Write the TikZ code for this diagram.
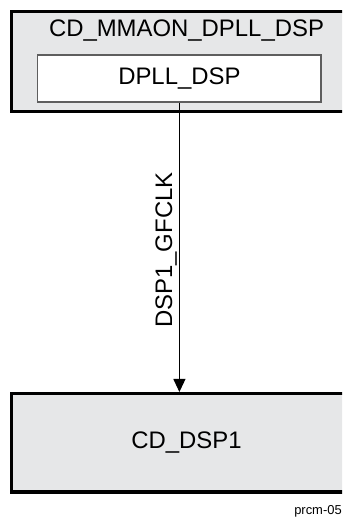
\documentclass[tikz,border=0pt]{standalone}
\usepackage{fontspec}
\setmainfont{Liberation Sans}
\usepackage{tikz}
\usetikzlibrary{arrows.meta,positioning}
\definecolor{CDGray}{HTML}{E6E7E8}
\definecolor{CDEdge}{HTML}{000000}
\definecolor{DPLLEdge}{HTML}{5E5E5E}

\begin{document}
\begin{tikzpicture}[
    x=0.025cm, y=-0.025cm,
    cdbox/.style={
      draw=CDEdge,
      fill=CDGray,
      line width=2.2pt,
      minimum width=8.75cm,
      inner sep=0pt
    },
    dpllbox/.style={
      draw=DPLLEdge,
      fill=white,
      line width=1pt,
      minimum width=7.08cm,
      minimum height=1.17cm,
      inner sep=0pt,
      font=\fontsize{17}{20}\selectfont
    },
    cdtext/.style={
      font=\fontsize{17}{20}\selectfont,
      inner sep=1.5pt
    },
    arrow/.style={
      -{Triangle[length=0.325cm,width=0.3cm]},
      line width=0.75pt,
      color=black
    }
  ]

  % page frame (the boxes run past the right edge)
  \clip (0,0) rectangle (342,517);

  % DPLL domain
  \node[cdbox, minimum height=2.5cm] (mmaon) at (186.5,61.5) {};
  \node[cdtext] (mmaontitle) at (186.5,30.5) {CD\_MMAON\_DPLL\_DSP};
  \node[dpllbox] (dplldsp) at (179.4,78.4) {DPLL\_DSP};

  % DSP1 domain
  \node[cdbox, minimum height=2.46cm, font=\fontsize{17}{20}\selectfont]
    (cddsp1) at (186.5,442.75) {CD\_DSP1};

  % Clock
  \draw[arrow] (dplldsp.south) -- (dplldsp.south |- cddsp1.north)
    node[cdtext, pos=0.51, rotate=90, anchor=south] (gfclk) {DSP1\_GFCLK};

  % Figure tag
  \node[font=\fontsize{9.2}{11}\selectfont, anchor=base east, inner sep=0pt]
    (tag) at (342,514.5) {prcm-05};

\end{tikzpicture}
\end{document}
